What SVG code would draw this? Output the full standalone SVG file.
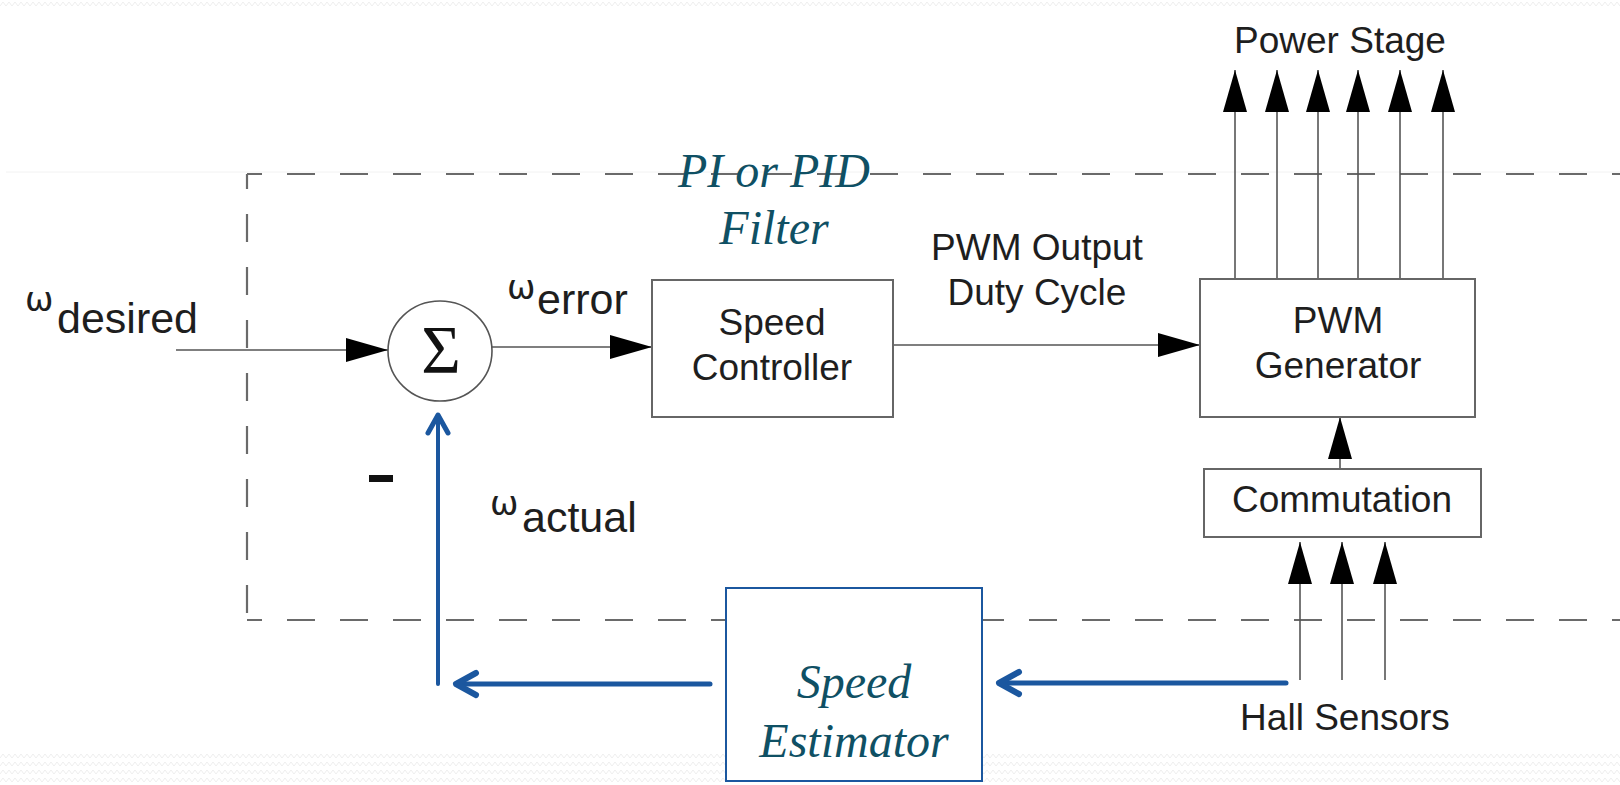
<svg xmlns="http://www.w3.org/2000/svg" width="1620" height="785" viewBox="0 0 1620 785">
  <defs>
    <style>
      .t { font-family: "Liberation Sans", Arial, sans-serif; fill: #1e1e1e; }
      .body { font-size: 37px; text-anchor: middle; }
      .sub { font-size: 43px; }
      .om { font-family: "DejaVu Sans", sans-serif; font-size: 34px; fill: #1e1e1e; }
      .it { font-family: "Liberation Serif", "Times New Roman", serif; font-style: italic; font-size: 48px; fill: #0f5064; text-anchor: middle; }
      .box { fill: #fff; stroke: #666; stroke-width: 2; }
      .wire { fill: none; stroke: #555; stroke-width: 1.6; }
      .dash { fill: none; stroke: #6a6a6a; stroke-width: 2.2; stroke-dasharray: 28 25; }
      .blue { fill: none; stroke: #1b579f; stroke-linecap: round; stroke-linejoin: round; }
    </style>
    <marker id="ah" markerUnits="userSpaceOnUse" markerWidth="42" markerHeight="24" refX="42" refY="12" orient="auto" viewBox="0 0 42 24">
      <path d="M0,0 L42,12 L0,24 Z" fill="#000"/>
    </marker>
    <pattern id="zig" width="12" height="8" patternUnits="userSpaceOnUse">
      <path d="M0,6 L3,2 L6,6 L9,2 L12,6" fill="none" stroke="#eeeeee" stroke-width="1"/>
    </pattern>
  </defs>

  <rect width="1620" height="785" fill="#fff"/>
  <g id="background">
    <rect x="0" y="0" width="1620" height="10" fill="url(#zig)"/>
    <rect x="0" y="752" width="1620" height="33" fill="url(#zig)"/>
    <line x1="6" y1="172" x2="1620" y2="172" stroke="#f2f2f2" stroke-width="1"/>
  </g>

  <g id="boundary">
    <line class="dash" x1="247" y1="174" x2="1620" y2="174" stroke-dashoffset="13"/>
    <line class="dash" x1="247" y1="174" x2="247" y2="620" stroke-dashoffset="13"/>
    <line class="dash" x1="247" y1="620" x2="1620" y2="620" stroke-dashoffset="13"/>
  </g>

  <g id="connectors">
    <line class="wire" x1="176" y1="350" x2="388" y2="350" marker-end="url(#ah)"/>
    <line class="wire" x1="492" y1="347" x2="652" y2="347" marker-end="url(#ah)"/>
    <line class="wire" x1="893" y1="345" x2="1200" y2="345" marker-end="url(#ah)"/>
    <line class="wire" x1="1235" y1="279" x2="1235" y2="70" marker-end="url(#ah)"/>
    <line class="wire" x1="1277" y1="279" x2="1277" y2="70" marker-end="url(#ah)"/>
    <line class="wire" x1="1318" y1="279" x2="1318" y2="70" marker-end="url(#ah)"/>
    <line class="wire" x1="1358" y1="279" x2="1358" y2="70" marker-end="url(#ah)"/>
    <line class="wire" x1="1400" y1="279" x2="1400" y2="70" marker-end="url(#ah)"/>
    <line class="wire" x1="1443" y1="279" x2="1443" y2="70" marker-end="url(#ah)"/>
    <line class="wire" x1="1340" y1="469" x2="1340" y2="417" marker-end="url(#ah)"/>
    <line class="wire" x1="1300" y1="680" x2="1300" y2="542" marker-end="url(#ah)"/>
    <line class="wire" x1="1342" y1="680" x2="1342" y2="542" marker-end="url(#ah)"/>
    <line class="wire" x1="1385" y1="680" x2="1385" y2="542" marker-end="url(#ah)"/>
    <!-- blue feedback -->
    <line class="blue" x1="1286" y1="683" x2="1000" y2="683" stroke-width="5" stroke-linecap="butt"/>
    <polyline class="blue" points="1019,672 999,683 1019,694" stroke-width="6"/>
    <line class="blue" x1="710" y1="684" x2="457" y2="684" stroke-width="5" stroke-linecap="butt"/>
    <polyline class="blue" points="476,673 456,684 476,695" stroke-width="6"/>
    <line class="blue" x1="438" y1="684" x2="438" y2="416" stroke-width="4" stroke-linecap="butt"/>
    <polyline class="blue" points="428,433 438,415 448,433" stroke-width="5"/>
  </g>

  <g id="sum">
    <ellipse cx="440" cy="351" rx="52" ry="50" fill="#fff" stroke="#555" stroke-width="1.6"/>
    <text x="441" y="372" font-family="Liberation Serif, Times New Roman, serif" font-size="68" text-anchor="middle" fill="#111">Σ</text>
  </g>

  <g id="label-desired">
    <text class="om" x="25" y="311">ω</text>
    <text class="t sub" x="57" y="333">desired</text>
  </g>
  <g id="label-error">
    <text class="om" x="507" y="299">ω</text>
    <text class="t sub" x="537" y="314">error</text>
  </g>
  <g id="label-actual">
    <text class="om" x="490" y="515">ω</text>
    <text class="t sub" x="522" y="532">actual</text>
  </g>
  <g id="minus">
    <rect x="369" y="475" width="24" height="7" fill="#111"/>
  </g>

  <g id="pi-label">
    <text class="it" x="774" y="187">PI or PID</text>
    <text class="it" x="774" y="244">Filter</text>
  </g>

  <g id="speed-controller">
    <rect class="box" x="652" y="280" width="241" height="137"/>
    <text class="t body" x="772" y="335">Speed</text>
    <text class="t body" x="772" y="380">Controller</text>
  </g>

  <g id="pwm-label">
    <text class="t body" x="1037" y="260">PWM Output</text>
    <text class="t body" x="1037" y="305">Duty Cycle</text>
  </g>

  <g id="pwm-generator">
    <rect class="box" x="1200" y="279" width="275" height="138"/>
    <text class="t body" x="1338" y="333">PWM</text>
    <text class="t body" x="1338" y="378">Generator</text>
  </g>

  <g id="power-stage">
    <text class="t body" x="1340" y="53">Power Stage</text>
  </g>

  <g id="commutation">
    <rect class="box" x="1204" y="469" width="277" height="68"/>
    <text class="t body" x="1342" y="512">Commutation</text>
  </g>

  <g id="hall-sensors">
    <text class="t body" x="1345" y="730">Hall Sensors</text>
  </g>

  <g id="speed-estimator">
    <rect x="726" y="588" width="256" height="193" fill="#fff" stroke="#1b579f" stroke-width="2"/>
    <text class="it" x="854" y="698">Speed</text>
    <text class="it" x="854" y="757">Estimator</text>
  </g>
</svg>
